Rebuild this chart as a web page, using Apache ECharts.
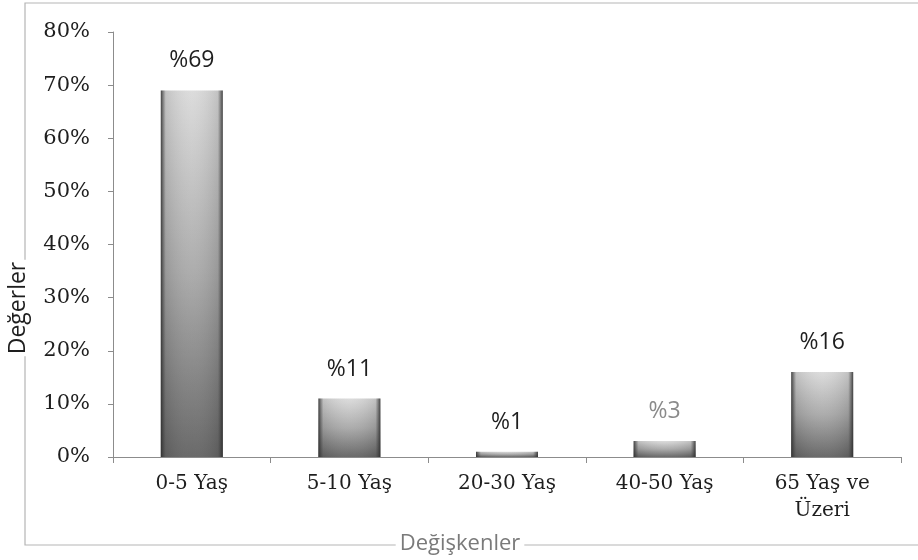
<!DOCTYPE html>
<html>
<head>
<meta charset="utf-8">
<script src="https://cdn.jsdelivr.net/npm/echarts@6/dist/echarts.min.js"></script>
<style>
  html, body { margin: 0; padding: 0; background: #fff; }
  #chart { width: 918px; height: 560px; }
</style>
</head>
<body>
<div id="chart"></div>
<script>
// Age groups and their shares (%)
const categories = ['0-5 Yaş', '5-10 Yaş', '20-30 Yaş', '40-50 Yaş', '65 Yaş ve\nÜzeri'];
const values = [69, 11, 1, 3, 16];
const valueLabelColors = ['#1e1e1e', '#1e1e1e', '#1e1e1e', '#8a8a8a', '#1e1e1e'];
const yTicks = [0, 10, 20, 30, 40, 50, 60, 70, 80];

const chart = echarts.init(document.getElementById('chart'));

const serif = 'DejaVu Serif';
const sans = 'Open Sans';

// vertical shading: light top, dark base
const bodyFill = new echarts.graphic.LinearGradient(0, 0, 0, 1, [
  { offset: 0, color: '#dadada' },
  { offset: 0.5, color: '#a8a8a8' },
  { offset: 1, color: '#626262' }
]);
// dark rims along the bar sides
const rimFill = new echarts.graphic.LinearGradient(0, 0, 1, 0, [
  { offset: 0, color: 'rgba(40,40,40,0.85)' },
  { offset: 0.08, color: 'rgba(60,60,60,0.15)' },
  { offset: 0.5, color: 'rgba(255,255,255,0.05)' },
  { offset: 0.92, color: 'rgba(60,60,60,0.15)' },
  { offset: 1, color: 'rgba(40,40,40,0.85)' }
]);

chart.setOption({
  animation: false,
  backgroundColor: '#fff',
  grid: { left: 113, right: 17, top: 32, bottom: 103 },
  graphic: {
    elements: [
      {
        type: 'rect',
        shape: { x: 25, y: 3, width: 910, height: 542 },
        style: { fill: 'none', stroke: '#b5b5b5', lineWidth: 1.2 },
        silent: true
      },
      {
        type: 'text',
        x: 18, y: 308, rotation: Math.PI / 2,
        style: {
          text: 'Değerler', font: '500 23px "Open Sans"', fill: '#1e1e1e',
          align: 'center', verticalAlign: 'middle',
          backgroundColor: '#fff', padding: [0, 2]
        }
      },
      {
        type: 'text',
        x: 460, y: 544,
        style: {
          text: 'Değişkenler', font: '22px "Open Sans"', fill: '#7a7a7a',
          align: 'center', verticalAlign: 'middle',
          backgroundColor: '#fff', padding: [0, 4]
        }
      }
    ]
  },
  xAxis: {
    type: 'category',
    data: categories,
    axisLine: { lineStyle: { color: '#8c8c8c', width: 1 } },
    axisTick: { show: true, length: 6, lineStyle: { color: '#8c8c8c' } },
    axisLabel: {
      fontFamily: serif, fontSize: 20, color: '#1e1e1e', margin: 13, lineHeight: 27
    },
    splitLine: { show: false }
  },
  yAxis: {
    type: 'value',
    min: 0, max: 80, interval: 10,
    axisLine: { show: true, lineStyle: { color: '#8c8c8c', width: 1 } },
    axisTick: { show: true, length: 5, lineStyle: { color: '#8c8c8c' } },
    axisLabel: {
      fontFamily: serif, fontSize: 21, color: '#1e1e1e', margin: 23,
      formatter: v => yTicks.includes(v) ? v + '%' : ''
    },
    splitLine: { show: false }
  },
  series: [
    {
      type: 'bar',
      data: values.map((v, i) => ({
        value: v,
        label: { color: valueLabelColors[i] }
      })),
      barWidth: 62,
      itemStyle: { color: bodyFill },
      label: {
        show: true, position: 'top', distance: 18,
        fontFamily: sans, fontSize: 23, fontWeight: 500,
        formatter: p => '%' + p.value
      }
    },
    {
      type: 'bar',
      data: values,
      barWidth: 62,
      barGap: '-100%',
      itemStyle: { color: rimFill },
      silent: true
    }
  ]
});
</script>
</body>
</html>
